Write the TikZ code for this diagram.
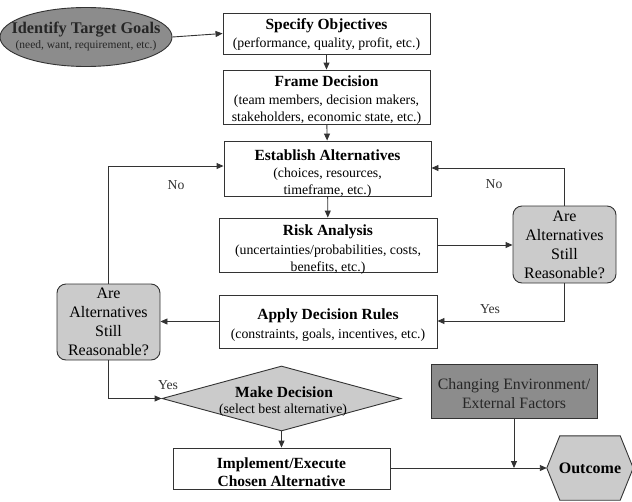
\documentclass[tikz,border=0pt]{standalone}
\usepackage{fontspec}
\setmainfont{Liberation Serif}
\usetikzlibrary{shapes.geometric,arrows.meta,calc}
\definecolor{ln}{HTML}{333333}
\definecolor{dk}{HTML}{8C8C8C}
\definecolor{lt}{HTML}{CBCBCB}
\begin{document}
\begin{tikzpicture}[x=1pt,y=-1pt,
  every node/.style={inner sep=1pt},
  box/.style={draw=ln,line width=0.9pt,fill=white},
  txt/.style={align=center,font=\fontsize{13.8}{17.5}\selectfont},
  hd/.style={font=\fontsize{15.5}{17}\selectfont\bfseries},
  rbox/.style={draw=ln,line width=0.9pt,fill=lt,rounded corners=9pt,align=center,font=\fontsize{16}{19}\selectfont,minimum width=103pt,minimum height=77pt,inner sep=0pt},
  lab/.style={font=\fontsize{13.7}{15}\selectfont,text=ln},
  arr/.style={draw=ln,line width=0.9pt,-{Triangle[length=7pt,width=6pt]}}]
\useasboundingbox (0,0) rectangle (632,501);

% nodes
\node[draw=ln,line width=0.9pt,fill=dk,ellipse,minimum width=172pt,minimum height=59pt,inner sep=0pt] (goal) at (86,37) {};
\node[font=\fontsize{16.3}{17}\selectfont\bfseries,text=black!85] at (86,30) {Identify Target Goals};
\node[font=\fontsize{11.5}{13}\selectfont,text=black!85] at (86,46) {(need, want, requirement, etc.)};

\node[box,minimum width=207pt,minimum height=41pt] (spec) at (326.5,33.5) {};
\node[hd] at (326.5,26) {Specify Objectives};
\node[txt] at (326.5,44) {(performance, quality, profit, etc.)};

\node[box,minimum width=207pt,minimum height=54pt] (frame) at (326.5,97) {};
\node[hd] at (326.5,81) {Frame Decision};
\node[txt] at (326.5,109.5) {(team members, decision makers,\\stakeholders, economic state, etc.)};

\node[box,minimum width=207pt,minimum height=55pt] (estab) at (327.5,168.5) {};
\node[hd] at (327.5,155) {Establish Alternatives};
\node[txt] at (327.5,182.5) {(choices, resources,\\timeframe, etc.)};

\node[box,minimum width=218pt,minimum height=54pt] (risk) at (328,245) {};
\node[hd] at (328,232) {Risk Analysis};
\node[txt] at (328,259.5) {(uncertainties/probabilities, costs,\\benefits, etc.)};

\node[box,minimum width=218pt,minimum height=53pt] (apply) at (328,321.5) {};
\node[hd] at (328,316) {Apply Decision Rules};
\node[txt] at (328,335) {(constraints, goals, incentives, etc.)};

\node[rbox] (rq) at (564.5,244.5) {Are\\Alternatives\\Still\\Reasonable?};
\node[rbox,minimum height=76pt] (lq) at (108.5,322) {Are\\Alternatives\\Still\\Reasonable?};

\node[diamond,draw=ln,line width=0.9pt,fill=lt,minimum width=239pt,minimum height=65pt,inner sep=0pt] (dec) at (281.5,398.5) {};
\node[hd] at (284,392) {Make Decision};
\node[txt] at (283,410) {(select best alternative)};

\node[box,minimum width=217pt,minimum height=41pt] (impl) at (281.5,468.5) {};
\node[hd,align=center,font=\fontsize{15.5}{18.5}\selectfont\bfseries] at (281.5,472) {Implement/Execute\\Chosen Alternative};

\node[draw=ln,line width=0.9pt,fill=dk,minimum width=166pt,minimum height=54pt] (env) at (514,391) {};
\node[align=center,font=\fontsize{15.8}{19.5}\selectfont,text=black!85] at (514,393.5) {Changing Environment/\\External Factors};

\node[minimum width=86pt,minimum height=64pt,inner sep=0pt] (out) at (590,468) {};
\draw[draw=ln,line width=0.9pt,fill=lt] (out.west) -- ($(out.north west)+(13,0)$) -- ($(out.north east)+(-13,0)$) -- (out.east)
  -- ($(out.south east)+(-13,0)$) -- ($(out.south west)+(13,0)$) -- cycle;
\node[font=\fontsize{16}{17}\selectfont\bfseries] at (out) {Outcome};

% connectors
\draw[arr] (goal.east) -- (spec.west);
\draw[arr] (spec) -- (frame);
\draw[arr] (frame) -- (estab);
\draw[arr] (estab) -- (risk);
\draw[arr] (risk.east) -- (rq.west |- risk.east);
\coordinate (rtop) at (rq.north |- 0,168);
\draw[arr] (rq.north) -- (rtop) -- (estab.east |- rtop);
\coordinate (rbot) at (rq.south |- 0,321);
\draw[arr] (rq.south) -- (rbot) -- (apply.east |- rbot);
\draw[arr] (apply.west) -- (lq.east |- apply.west);
\coordinate (ltop) at (lq.north |- 0,166);
\draw[arr] (lq.north) -- (ltop) -- (estab.west |- ltop);
\coordinate (lbot) at (lq.south |- dec.west);
\draw[arr] (lq.south) -- (lbot) -- (dec.west);
\draw[arr] (dec.south) -- (impl.north);
\draw[arr] (impl.east |- out.west) -- (out.west);
\coordinate (join) at (env.south |- out.west);
\draw[arr] (env.south) -- (join);

% labels
\node[lab] at (176,185) {No};
\node[lab] at (494,184) {No};
\node[lab] at (490,309) {Yes};
\node[lab] at (168,385) {Yes};
\end{tikzpicture}
\end{document}
